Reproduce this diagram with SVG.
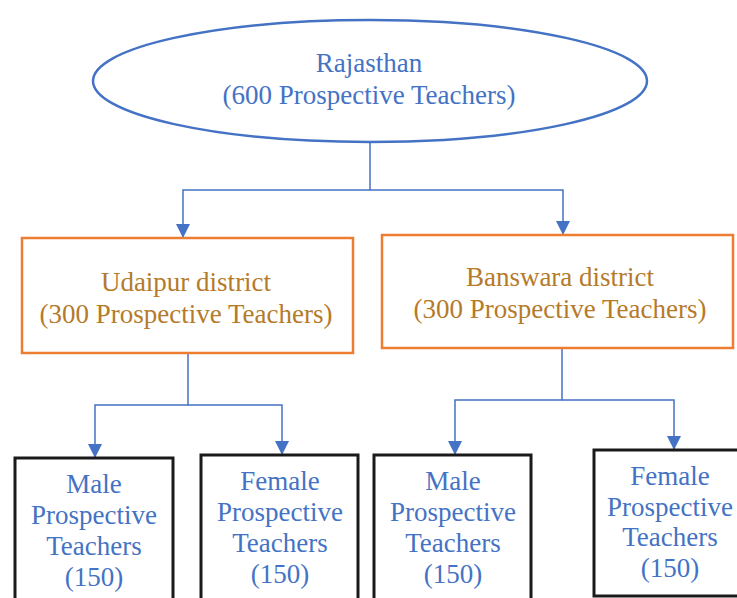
<svg xmlns="http://www.w3.org/2000/svg" width="737" height="598" viewBox="0 0 737 598">
  <style>
    text { font-family: 'Liberation Serif', serif !important; font-size: 27px; text-anchor: middle; }
    .blue { fill: #4472C4; }
    .brown { fill: #B57A2A; }
    .district { fill: #FFFFFF; stroke: #ED7D31; stroke-width: 2.5; }
    .leaf { fill: #FFFFFF; stroke: #1A1A1A; stroke-width: 3; }
    .link { fill: none; stroke: #4472C4; stroke-width: 1.5; }
  </style>
  <defs>
    <marker id="arrow" viewBox="0 0 14 14" refX="13" refY="7" markerWidth="14" markerHeight="14" markerUnits="userSpaceOnUse" orient="auto">
      <path d="M0,0 L14,7 L0,14 Z" fill="#4472C4"/>
    </marker>
  </defs>

  <!-- connectors -->
  <g id="connectors">
    <path class="link" d="M370,143 V190 H183 V237" marker-end="url(#arrow)"/>
    <path class="link" d="M370,190 H563 V234" marker-end="url(#arrow)"/>
    <path class="link" d="M188,353 V405 H95 V457" marker-end="url(#arrow)"/>
    <path class="link" d="M188,405 H282 V454" marker-end="url(#arrow)"/>
    <path class="link" d="M562,348 V400 H455 V454" marker-end="url(#arrow)"/>
    <path class="link" d="M562,400 H674 V449" marker-end="url(#arrow)"/>
  </g>

  <!-- state -->
  <g id="rajasthan">
    <ellipse cx="370" cy="81" rx="277" ry="61" fill="#FFFFFF" stroke="#4472C4" stroke-width="2.5"/>
    <text class="blue" x="369" y="72" font-family="'Liberation Serif', serif">Rajasthan</text>
    <text class="blue" x="369" y="104" font-family="'Liberation Serif', serif">(600 Prospective Teachers)</text>
  </g>

  <!-- districts -->
  <g id="udaipur">
    <rect class="district" x="22" y="238" width="331" height="115"/>
    <text class="brown" x="186" y="291" font-family="'Liberation Serif', serif">Udaipur district</text>
    <text class="brown" x="186" y="323" font-family="'Liberation Serif', serif">(300 Prospective Teachers)</text>
  </g>
  <g id="banswara">
    <rect class="district" x="382" y="235" width="351" height="113"/>
    <text class="brown" x="560" y="286" font-family="'Liberation Serif', serif">Banswara district</text>
    <text class="brown" x="560" y="318" font-family="'Liberation Serif', serif">(300 Prospective Teachers)</text>
  </g>

  <!-- gender groups -->
  <g id="udaipur-male">
    <rect class="leaf" x="15" y="458" width="158" height="150"/>
    <text class="blue" x="94" y="493" font-family="'Liberation Serif', serif">Male</text>
    <text class="blue" x="94" y="524" font-family="'Liberation Serif', serif">Prospective</text>
    <text class="blue" x="94" y="555" font-family="'Liberation Serif', serif">Teachers</text>
    <text class="blue" x="94" y="586" font-family="'Liberation Serif', serif">(150)</text>
  </g>
  <g id="udaipur-female">
    <rect class="leaf" x="201" y="455" width="157" height="150"/>
    <text class="blue" x="280" y="490" font-family="'Liberation Serif', serif">Female</text>
    <text class="blue" x="280" y="521" font-family="'Liberation Serif', serif">Prospective</text>
    <text class="blue" x="280" y="552" font-family="'Liberation Serif', serif">Teachers</text>
    <text class="blue" x="280" y="583" font-family="'Liberation Serif', serif">(150)</text>
  </g>
  <g id="banswara-male">
    <rect class="leaf" x="374" y="455" width="157" height="150"/>
    <text class="blue" x="453" y="490" font-family="'Liberation Serif', serif">Male</text>
    <text class="blue" x="453" y="521" font-family="'Liberation Serif', serif">Prospective</text>
    <text class="blue" x="453" y="552" font-family="'Liberation Serif', serif">Teachers</text>
    <text class="blue" x="453" y="583" font-family="'Liberation Serif', serif">(150)</text>
  </g>
  <g id="banswara-female">
    <rect class="leaf" x="594" y="450" width="150" height="146"/>
    <text class="blue" x="670" y="485" font-family="'Liberation Serif', serif">Female</text>
    <text class="blue" x="670" y="516" font-family="'Liberation Serif', serif">Prospective</text>
    <text class="blue" x="670" y="546" font-family="'Liberation Serif', serif">Teachers</text>
    <text class="blue" x="670" y="577" font-family="'Liberation Serif', serif">(150)</text>
  </g>
</svg>
